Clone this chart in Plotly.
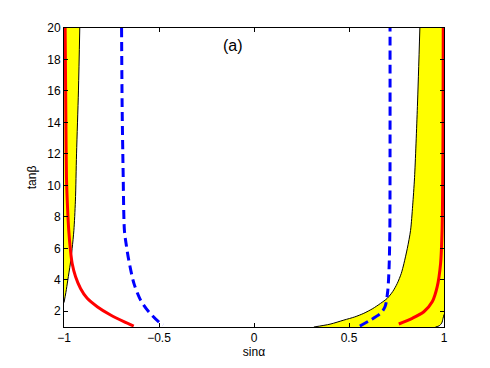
import plotly.graph_objects as go

# curves: x = sin(alpha), y = tan(beta)
# left boundary of the allowed (yellow) band
left_bound_x = [-1.0, -0.99, -0.98, -0.967, -0.957, -0.948, -0.940, -0.934, -0.924, -0.917]
left_bound_y = [2.55, 3.2, 3.98, 5.0, 6.0, 7.14, 9.0, 12.0, 16.0, 20.0]

# right boundary of the band
right_bound_x = [0.315, 0.40, 0.473, 0.53, 0.578, 0.625, 0.666, 0.701, 0.730, 0.754, 0.775, 0.789, 0.807, 0.824, 0.835, 0.845, 0.860, 0.873]
right_bound_y = [1.0, 1.18, 1.44, 1.64, 1.87, 2.17, 2.5, 2.82, 3.25, 3.77, 4.4, 5.03, 6.0, 7.14, 8.7, 10.5, 15.0, 20.0]

# little corner boundary, bottom right
corner_x = [0.955, 0.975, 0.988, 0.995, 1.0]
corner_y = [1.0, 1.08, 1.25, 1.55, 1.8]

# red solid curves
red_left_x = [-0.633, -0.685, -0.755, -0.825, -0.878, -0.913, -0.939, -0.957, -0.966, -0.975, -0.981, -0.987, -0.990, -0.994]
red_left_y = [1.06, 1.34, 1.76, 2.29, 2.82, 3.45, 4.19, 5.03, 5.88, 7.14, 8.5, 10.5, 14.0, 20.0]
red_right_x = [0.762, 0.833, 0.894, 0.938, 0.964, 0.982, 0.990, 0.993, 0.995, 0.996]
red_right_y = [1.19, 1.55, 1.97, 2.6, 3.55, 5.03, 7.14, 10.0, 14.0, 20.0]

# blue dashed curves
blue_left_x = [-0.697, -0.694, -0.689, -0.682, -0.672, -0.659, -0.632, -0.597, -0.554, -0.492, -0.478]
blue_left_y = [20.0, 15.0, 11.0, 7.14, 6.2, 5.24, 3.77, 2.71, 1.97, 1.23, 1.15]
blue_right_x = [0.557, 0.613, 0.666, 0.690, 0.704, 0.711, 0.715, 0.716, 0.716]
blue_right_y = [1.06, 1.44, 1.87, 2.3, 3.3, 4.8, 7.14, 12.0, 20.0]

X_TICKS = [-1, -0.5, 0, 0.5, 1]
Y_TICKS = [2, 4, 6, 8, 10, 12, 14, 16, 18, 20]

YELLOW = '#ffff00'

fig = go.Figure()

# yellow band on the left: x=-1 edge up, then down along the boundary
fig.add_trace(go.Scatter(
    x=[-1.0] + left_bound_x[::-1],
    y=[20.0] + left_bound_y[::-1],
    fill='toself', fillcolor=YELLOW, mode='none', hoverinfo='skip'))

# yellow band on the right
fig.add_trace(go.Scatter(
    x=right_bound_x + [1.0] + corner_x[::-1],
    y=right_bound_y + [20.0] + corner_y[::-1],
    fill='toself', fillcolor=YELLOW, mode='none', hoverinfo='skip'))

for bx, by in [(left_bound_x, left_bound_y), (right_bound_x, right_bound_y), (corner_x, corner_y)]:
    fig.add_trace(go.Scatter(x=bx, y=by, mode='lines',
                             line=dict(color='black', width=1, shape='spline', smoothing=0.8)))

for rx, ry in [(red_left_x, red_left_y), (red_right_x, red_right_y)]:
    fig.add_trace(go.Scatter(x=rx, y=ry, mode='lines',
                             line=dict(color='#ff0000', width=3, shape='spline', smoothing=0.8)))

for bx, by in [(blue_left_x, blue_left_y), (blue_right_x, blue_right_y)]:
    fig.add_trace(go.Scatter(x=bx, y=by, mode='lines',
                             line=dict(color='#0000ff', width=3, dash='9px,5px',
                                       shape='spline', smoothing=0.8)))

fig.add_annotation(x=-0.108, y=18.86, text='(a)', showarrow=False,
                   font=dict(size=16, color='black'))

axis_style = dict(showline=True, linecolor='black', linewidth=1, mirror='ticks',
                  ticks='inside', ticklen=4, tickcolor='black', showgrid=False,
                  zeroline=False, tickfont=dict(size=12, color='black'))

fig.update_xaxes(range=[-1, 1], tickvals=X_TICKS, title=dict(text='sinα', standoff=2,
                 font=dict(size=12, color='black')), **axis_style)
fig.update_yaxes(range=[1, 20], tickvals=Y_TICKS, title=dict(text='tanβ', standoff=8,
                 font=dict(size=12, color='black')), **axis_style)

fig.update_layout(
    width=490, height=368,
    margin=dict(l=56, r=54, t=20, b=49),
    plot_bgcolor='white', paper_bgcolor='white',
    showlegend=False,
    font=dict(family='Liberation Sans, Arial, sans-serif'),
)

fig.write_html("out.html")
